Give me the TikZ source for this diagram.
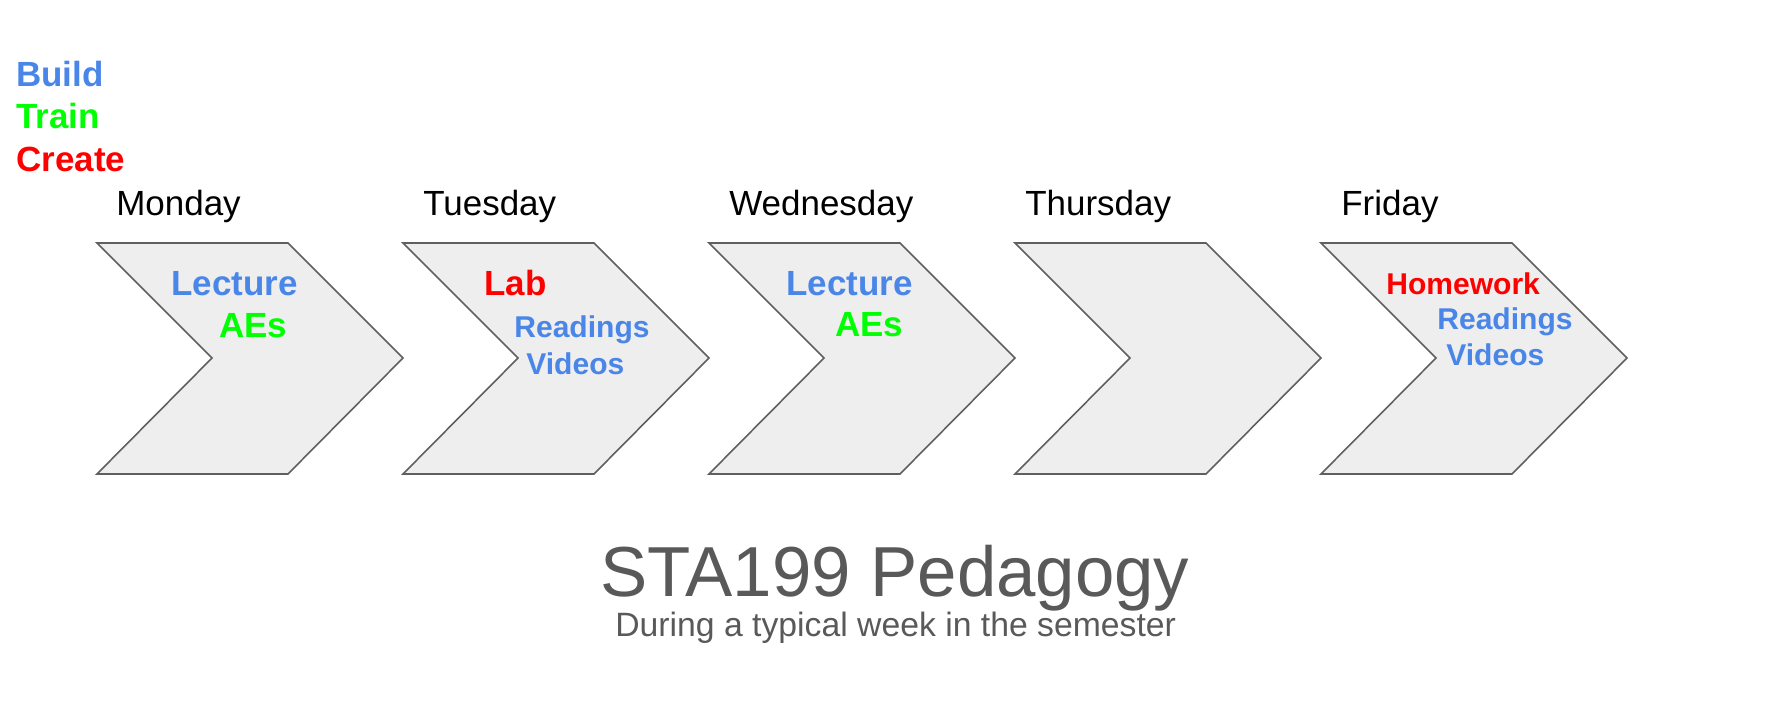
\documentclass[tikz,border=0pt]{standalone}
\usepackage{fontspec}
\setmainfont{Liberation Sans}
\usetikzlibrary{positioning}
\definecolor{cBuild}{HTML}{4A86E8}
\definecolor{cTrain}{HTML}{00FF00}
\definecolor{cCreate}{HTML}{FF0000}
\definecolor{cFill}{HTML}{EEEEEE}
\definecolor{cEdge}{HTML}{5F5F5F}
\definecolor{cGrey}{HTML}{595959}

\begin{document}
\begin{tikzpicture}[x=0.02cm,y=-0.02cm,
    chev/.style={draw=cEdge,fill=cFill,line width=0.9pt,line join=miter},
    txt/.style={anchor=base west,inner sep=0pt,font=\fontsize{19.9}{24}\selectfont},
    bold/.style={txt,font=\fontsize{19.9}{24}\selectfont\bfseries},
    sub/.style={txt,font=\fontsize{17.1}{20}\selectfont\bfseries}]
    \useasboundingbox (0,0) rectangle (1766,712);
    % legend
    \node[bold,text=cBuild]  (build)  at (16,86.5)  {Build};
    \node[bold,text=cTrain]  (train)  at (16,129)   {Train};
    \node[bold,text=cCreate] (create) at (16,171.5) {Create};
    % chevrons
    \foreach \x in {97,403,709,1015,1321}
      \draw[chev] (\x,243) -- ++(191,0) -- ++(115,115) -- ++(-115,116)
        -- ++(-191,0) -- ++(115,-116) -- cycle;
    % days
    \node[txt] (mon) at (116,216)  {Monday};
    \node[txt] (tue) at (423,216)  {Tuesday};
    \node[txt] (wed) at (729,216)  {Wednesday};
    \node[txt] (thu) at (1025,216) {Thursday};
    \node[txt] (fri) at (1341,216) {Friday};
    % monday
    \node[bold,text=cBuild] (lec1) at (171,296)   {Lecture};
    \node[bold,text=cTrain] (ae1)  at (219,337.5) {AEs};
    % tuesday
    \node[bold,text=cCreate] (lab) at (484,295.5) {Lab};
    \node[sub,text=cBuild]   (rd2) at (514,337.5) {Readings};
    \node[sub,text=cBuild]   (vd2) at (526,375)   {Videos};
    % wednesday
    \node[bold,text=cBuild] (lec3) at (786,295.5) {Lecture};
    \node[bold,text=cTrain] (ae3)  at (835,337)   {AEs};
    % friday
    \node[sub,text=cCreate] (hw)  at (1386,294.5) {Homework};
    \node[sub,text=cBuild]  (rd5) at (1437,329.5) {Readings};
    \node[sub,text=cBuild]  (vd5) at (1446,365.5) {Videos};
    % title
    \node[txt,text=cGrey,font=\fontsize{40.3}{46}\selectfont] (title) at (600,597) {STA199 Pedagogy};
    \node[txt,text=cGrey,font=\fontsize{19.2}{23}\selectfont] (subtitle) at (615,637) {During a typical week in the semester};
  \end{tikzpicture}
\end{document}
